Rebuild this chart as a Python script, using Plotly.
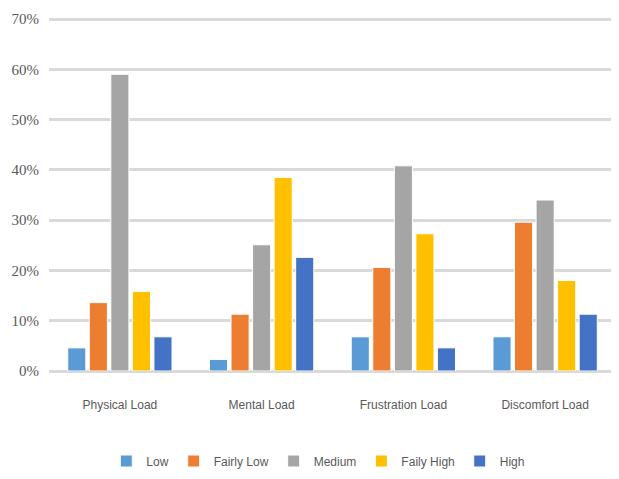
import plotly.graph_objects as go

categories = ["Physical Load", "Mental Load", "Frustration Load", "Discomfort Load"]
series_names = ["Low", "Fairly Low", "Medium", "Faily High", "High"]
low = [4.6, 2.3, 6.8, 6.8]
fairly_low = [13.6, 11.3, 20.6, 29.6]
medium = [59.0, 25.1, 40.8, 34.0]
faily_high = [15.8, 38.5, 27.3, 18.0]
high = [6.8, 22.6, 4.6, 11.3]
series_values = [low, fairly_low, medium, faily_high, high]
colors = ["#5B9BD5", "#ED7D31", "#A5A5A5", "#FFC000", "#4472C4"]
y_ticks = [0, 10, 20, 30, 40, 50, 60, 70]
y_tick_labels = ["0%", "10%", "20%", "30%", "40%", "50%", "60%", "70%"]

fig = go.Figure()
for name, vals, col in zip(series_names, series_values, colors):
    fig.add_trace(go.Bar(
        x=categories, y=vals, name=name,
        marker=dict(color=col, line=dict(color="white", width=1)),
    ))

fig.update_layout(
    width=611, height=471,
    margin=dict(l=40, r=3, t=7, b=103),
    paper_bgcolor="white", plot_bgcolor="white",
    barmode="group", bargap=0.24, bargroupgap=0.16,
    showlegend=True,
    legend=dict(
        orientation="h", x=0.475, xanchor="center", y=-0.255, yanchor="middle",
        font=dict(family="Liberation Sans Narrow, Liberation Sans", size=12, color="#595959"),
        itemwidth=30, traceorder="normal",
    ),
    xaxis=dict(
        showgrid=False, showline=False, zeroline=False,
        tickfont=dict(family="Liberation Sans Narrow, Liberation Sans", size=12, color="#595959"),
        ticks="", ticklabelstandoff=25,
    ),
    yaxis=dict(
        range=[0, 70.2], tickvals=y_ticks, ticktext=y_tick_labels,
        showgrid=True, gridcolor="#D9D9D9", gridwidth=2.5,
        zeroline=True, zerolinecolor="#D9D9D9", zerolinewidth=2.5,
        showline=False, ticks="",
        tickfont=dict(family="Liberation Serif, Times New Roman, serif", size=15, color="#595959"),
        ticklabelstandoff=9,
    ),
)

fig.write_html("out.html")
